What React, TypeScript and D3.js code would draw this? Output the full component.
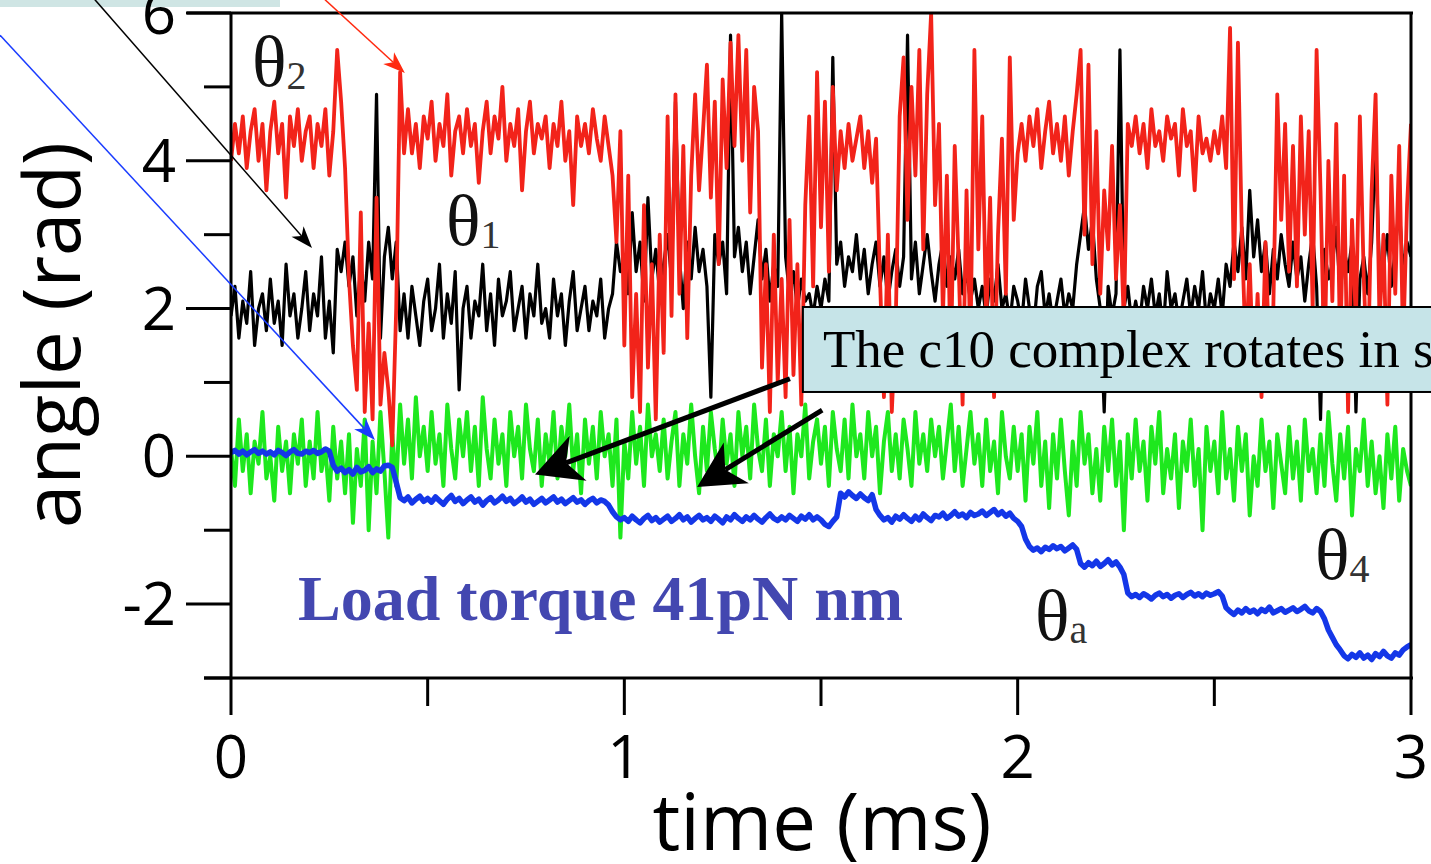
import React from 'react';
import * as d3 from 'd3';

// samples are 0.01 ms apart, starting at t = 0
const timeStep = 0.01;

// theta2 (red)
const theta2 = [
  4.0, 4.5, 4.1, 4.6, 3.9, 4.4, 4.7, 4.0, 4.5, 3.6,
  4.4, 4.8, 4.1, 4.5, 3.5, 4.6, 4.2, 4.7, 4.0, 4.4,
  4.6, 3.9, 4.5, 4.2, 4.7, 3.8, 4.4, 5.5, 4.8, 3.9,
  2.4, 1.5, 0.9, 3.3, 0.6, 1.8, 0.5, 3.5, 0.7, 1.4,
  0.9, 0.15, 2.0, 5.2, 4.1, 4.7, 4.1, 4.5, 3.9, 4.6,
  4.3, 4.8, 4.0, 4.5, 4.2, 4.9, 3.8, 4.4, 4.6, 4.1,
  4.7, 4.2, 4.5, 3.7, 4.4, 4.8, 4.1, 4.6, 4.3, 5.0,
  4.0, 4.5, 4.2, 4.7, 3.6, 4.4, 4.8, 4.1, 4.5, 4.3,
  4.6, 3.9, 4.5, 4.2, 4.8, 4.0, 4.4, 3.4, 4.6, 4.2,
  4.5, 4.1, 4.7, 4.3, 4.0, 4.6, 4.2, 3.8, 2.9, 4.4,
  1.5, 3.8, 0.8, 2.2, 0.6, 3.4, 1.2, 2.6, 0.5, 3.0,
  1.4, 4.6, 1.9, 4.9, 2.2, 4.2, 1.6, 3.8, 4.9, 3.6,
  4.4, 5.3, 3.5, 4.8, 2.6, 5.1, 3.9, 5.6, 4.2, 5.7,
  4.0, 5.5, 3.3, 5.0, 4.4, 1.2, 2.6, 0.6, 3.0, 1.0,
  2.4, 0.8, 3.2, 1.1, 2.6, 0.7, 3.4, 4.6, 2.3, 5.2,
  3.1, 4.8, 2.5, 5.0, 3.6, 4.4, 3.9, 4.5, 4.0, 4.3,
  4.6, 3.9, 4.4, 3.7, 4.3, 2.4, 0.8, 3.0, 0.6, 1.8,
  4.6, 5.4, 3.2, 5.0, 3.8, 5.5, 2.8, 4.9, 6.0, 3.4,
  4.5, 1.9, 3.8, 1.2, 4.2, 2.6, 0.7, 3.6, 1.5, 5.5,
  2.8, 4.6, 1.8, 3.5, 0.8, 3.0, 4.3, 2.2, 5.4, 3.2,
  4.1, 4.5, 4.0, 4.6, 4.2, 4.7, 3.9, 4.4, 4.8, 4.1,
  4.5, 4.0, 4.6, 3.8, 4.4, 4.9, 5.5, 3.0, 5.3, 2.6,
  4.4, 2.2, 3.6, 2.8, 4.2, 2.4, 3.4, 1.8, 4.5, 4.2,
  4.6, 4.1, 4.5, 3.9, 4.7, 4.2, 4.4, 4.0, 4.6, 4.3,
  4.5, 3.8, 4.7, 4.2, 4.4, 3.6, 4.6, 4.1, 4.3, 4.0,
  4.4, 4.1, 4.6, 3.9, 5.8, 2.4, 5.6, 3.0, 1.4, 2.6,
  1.0, 2.2, 0.8, 2.9, 1.3, 2.0, 4.9, 3.2, 4.5, 2.5,
  4.2, 2.3, 4.6, 3.0, 4.4, 2.0, 5.5, 3.6, 1.2, 4.0,
  2.1, 4.5, 1.4, 3.8, 0.6, 3.2, 1.8, 4.6, 2.4, 1.0,
  3.6, 4.9, 1.8, 3.0, 0.7, 3.8, 2.2, 4.2, 1.5, 3.4,
  4.5,
];

// theta1 (black)
const theta1 = [
  1.9, 2.3, 1.6, 2.1, 1.8, 2.5, 1.5, 2.0, 2.2, 1.7,
  2.4, 1.8, 2.1, 1.5, 2.6, 1.9, 2.2, 1.6, 2.0, 2.5,
  1.7, 2.2, 1.9, 2.7, 1.6, 2.1, 1.4, 2.8, 2.5, 2.9,
  2.3, 2.7, 1.9, 2.6, 2.1, 2.9, 2.4, 4.9, 1.6, 2.7,
  3.1, 2.4, 2.9, 1.7, 2.2, 1.6, 2.3, 1.9, 1.5, 2.1,
  2.4, 1.7, 2.0, 2.6, 1.6, 2.2, 1.8, 2.5, 0.9, 2.0,
  2.3, 1.6, 2.1, 1.9, 2.6, 1.7, 2.2, 1.5, 2.4, 1.9,
  2.1, 2.5, 1.7, 2.0, 2.3, 1.6, 2.2, 1.9, 2.6, 1.8,
  2.0, 1.6, 2.4, 1.9, 2.2, 1.5, 2.1, 2.5, 1.7, 2.0,
  2.3, 1.7, 2.1, 1.9, 2.4, 1.6, 2.0, 2.2, 2.9, 2.5,
  2.7, 2.2, 3.3, 2.5, 2.9, 2.1, 3.5, 2.4, 2.8, 2.2,
  2.6, 3.0, 2.4, 4.8, 2.7, 2.0, 2.9, 2.4, 3.1, 2.5,
  2.8, 2.3, 0.8, 3.0, 2.6, 2.9, 2.2, 5.7, 2.7, 3.1,
  2.5, 2.9, 2.2, 2.7, 3.2, 2.4, 2.8, 2.1, 2.6, 2.3,
  6.0, 2.7, 2.2, 2.5, 2.0, 2.4, 2.1, 2.2, 1.9, 2.3,
  2.0, 2.4, 2.1, 5.4, 2.6, 2.9, 2.3, 2.7, 2.5, 3.0,
  2.4, 2.8, 2.2, 2.6, 2.9, 2.3, 2.7, 2.1, 2.5, 2.8,
  2.3, 2.7, 5.7, 2.4, 2.9, 2.2, 2.6, 3.0, 2.5, 2.1,
  2.6, 2.9, 2.3, 2.7, 2.4, 2.8, 2.2, 2.5, 2.1, 2.4,
  2.0, 2.3, 1.9, 2.4, 2.1, 2.6, 2.0, 2.2, 1.8, 2.3,
  2.1, 1.8, 2.4, 2.0, 1.7, 2.3, 2.5, 1.9, 2.2, 1.8,
  2.1, 2.4, 1.9, 2.2, 2.0, 2.6, 3.0, 3.4, 2.8, 3.2,
  2.4, 2.0, 0.6, 2.3, 1.9, 2.2, 5.5, 2.0, 2.3, 1.8,
  2.1, 1.8, 2.3, 2.0, 2.4, 1.9, 2.2, 1.7, 2.5, 2.0,
  2.2, 1.8, 2.1, 2.4, 1.9, 2.3, 2.0, 2.5, 1.8, 2.2,
  2.0, 2.4, 1.9, 2.6, 2.3, 2.9, 2.5, 3.1, 2.4, 3.6,
  2.7, 3.2, 2.5, 2.9, 2.2, 2.8, 2.4, 3.0, 2.6, 2.3,
  2.9, 2.4, 2.7, 2.1, 2.6, 3.0, 2.3, 0.5, 2.8, 2.4,
  2.6, 3.1, 2.2, 2.8, 2.5, 2.9, 0.6, 2.4, 2.7, 2.2,
  2.9, 4.2, 2.5, 2.6, 3.0, 2.3, 2.8, 3.4, 2.5, 2.9,
  2.7,
];

// theta4 (green)
const theta4 = [
  0.1, -0.4, 0.5, -0.2, 0.3, -0.5, 0.2, -0.1, 0.6, -0.3,
  0.0, -0.6, 0.4, -0.2, 0.2, -0.5, 0.3, -0.1, 0.5, -0.4,
  0.2, -0.3, 0.6, -0.2, 0.1, -0.6, 0.4, -0.3, 0.2, -0.5,
  0.3, -0.9, 0.1, -0.4, 0.5, -1.0, 0.2, -0.5, 0.6, -0.2,
  -1.1, 0.3, -0.4, 0.7, -0.1, 0.5, -0.3, 0.8, 0.0, 0.4,
  -0.2, 0.6, -0.1, 0.3, -0.4, 0.7, 0.1, -0.3, 0.5, 0.0,
  0.6, -0.2, 0.4, -0.4, 0.8, 0.1, -0.3, 0.5, -0.1, 0.3,
  -0.4, 0.6, 0.0, 0.4, -0.3, 0.7, 0.1, -0.2, 0.5, -0.4,
  0.3, -0.1, 0.6, -0.3, 0.4, 0.0, 0.7, -0.2, 0.3, -0.5,
  0.5, -0.1, 0.4, -0.3, 0.6, 0.0, 0.3, -0.4, 0.5, -1.1,
  0.2, -0.3, 0.6, -0.1, 0.4, -0.4, 0.7, 0.0, 0.3, -0.2,
  0.5, -0.3, 0.2, 0.6, -0.4, 0.3, -0.1, 0.7, 0.0, -0.5,
  0.4, -0.2, 0.6, 0.1, -0.3, 0.5, -0.1, 0.3, -0.4, 0.6,
  0.0, 0.4, -0.3, 0.7, 0.1, -0.2, 0.5, -0.4, 0.3, 0.0,
  0.6, -0.2, 0.4, -0.5, 0.3, 0.0, 0.7, -0.3, 0.2, 0.5,
  -0.1, 0.4, -0.4, 0.6, 0.1, -0.2, 0.5, -0.3, 0.7, 0.0,
  0.3, -0.3, 0.6, 0.0, 0.4, -0.5, 0.2, 0.6, -0.2, 0.3,
  -0.3, 0.5, 0.1, -0.4, 0.6, -0.1, 0.3, -0.2, 0.5, 0.0,
  0.4, -0.3, 0.2, 0.7, -0.2, 0.4, -0.4, 0.1, 0.6, -0.1,
  0.3, -0.4, 0.5, -0.2, 0.2, -0.5, 0.6, 0.0, -0.3, 0.4,
  -0.2, 0.3, -0.6, 0.4, -0.1, 0.6, -0.4, 0.2, -0.7, 0.3,
  -0.3, 0.5, -0.2, -0.8, 0.2, -0.4, 0.6, -0.1, 0.3, -0.5,
  0.1, -0.6, 0.4, -0.2, 0.5, -0.4, 0.2, -1.0, 0.3, -0.3,
  0.5, -0.2, 0.2, -0.6, 0.4, -0.1, 0.6, -0.5, 0.1, -0.3,
  0.3, -0.7, 0.2, -0.2, 0.5, -0.4, 0.1, -1.0, 0.4, -0.2,
  0.2, -0.5, 0.6, -0.3, 0.1, -0.6, 0.4, -0.2, 0.3, -0.8,
  0.0, -0.4, 0.5, -0.2, 0.2, -0.7, 0.3, -0.1, -0.5, 0.4,
  -0.3, 0.2, -0.6, 0.5, -0.2, 0.1, -0.5, 0.3, -0.4, 0.6,
  -0.1, -0.6, 0.3, -0.3, 0.4, -0.8, 0.1, -0.2, 0.5, -0.4,
  0.2, -0.5, 0.0, -0.7, 0.3, -0.3, 0.4, -0.6, 0.1, -0.2,
  -0.4,
];

// theta_a (blue), stepping rotor angle
const thetaA = [
  0.05, 0.08, 0.03, 0.07, 0.02, 0.06, 0.09, 0.04, 0.07, 0.03,
  0.06, 0.02, 0.08, 0.05, 0.01, 0.06, 0.09, 0.04, 0.03, 0.07,
  0.05, 0.08, 0.04, 0.06, 0.10, 0.07, -0.12, -0.20, -0.16, -0.22,
  -0.18, -0.24, -0.15, -0.21, -0.19, -0.14, -0.22, -0.17, -0.20, -0.13,
  -0.12, -0.15, -0.35, -0.56, -0.60, -0.55, -0.63, -0.58, -0.54, -0.61,
  -0.57, -0.62, -0.55, -0.60, -0.65, -0.58, -0.53, -0.61, -0.57, -0.64,
  -0.59, -0.55, -0.62, -0.58, -0.66, -0.60, -0.56, -0.63, -0.59, -0.54,
  -0.61, -0.57, -0.64, -0.60, -0.55, -0.62, -0.58, -0.65, -0.61, -0.57,
  -0.63, -0.59, -0.55, -0.62, -0.58, -0.64, -0.60, -0.56, -0.62, -0.59,
  -0.65, -0.60, -0.57, -0.63, -0.59, -0.61, -0.66, -0.75, -0.82, -0.86,
  -0.83, -0.88, -0.81, -0.86, -0.90, -0.84, -0.80, -0.87, -0.83, -0.89,
  -0.85, -0.81, -0.88, -0.84, -0.79, -0.86, -0.82, -0.89, -0.84, -0.80,
  -0.86, -0.83, -0.88, -0.81, -0.85, -0.90, -0.82, -0.86, -0.79, -0.84,
  -0.88, -0.82, -0.86, -0.80, -0.85, -0.89, -0.83, -0.78, -0.84, -0.87,
  -0.82, -0.86, -0.80, -0.84, -0.88, -0.81, -0.85, -0.79, -0.86, -0.82,
  -0.86, -0.92, -0.95, -0.88, -0.82, -0.50, -0.55, -0.48, -0.53, -0.57,
  -0.51, -0.56, -0.60, -0.52, -0.72, -0.80, -0.86, -0.83, -0.89, -0.81,
  -0.85, -0.79, -0.84, -0.88, -0.81, -0.86, -0.78, -0.83, -0.87, -0.80,
  -0.82, -0.77, -0.84, -0.80, -0.75, -0.81, -0.78, -0.83, -0.76, -0.80,
  -0.78, -0.74, -0.80, -0.76, -0.72, -0.79, -0.75, -0.81, -0.77, -0.84,
  -0.88, -0.95, -1.12, -1.22, -1.27, -1.24, -1.29, -1.23, -1.26, -1.21,
  -1.25, -1.22, -1.28, -1.24, -1.20, -1.26, -1.45, -1.50, -1.44, -1.48,
  -1.42, -1.49, -1.45, -1.40, -1.47, -1.43, -1.50, -1.60, -1.85, -1.90,
  -1.87, -1.91, -1.86, -1.89, -1.93, -1.88, -1.85, -1.90, -1.87, -1.92,
  -1.88, -1.86, -1.91, -1.87, -1.84, -1.89, -1.86, -1.90, -1.85, -1.88,
  -1.86, -1.83, -1.89, -2.05, -2.10, -2.14, -2.08, -2.12, -2.06, -2.11,
  -2.08, -2.13, -2.07, -2.10, -2.04, -2.12, -2.09, -2.06, -2.11, -2.08,
  -2.05, -2.10, -2.07, -2.03, -2.09, -2.12, -2.06, -2.10, -2.20, -2.35,
  -2.45, -2.55, -2.62, -2.70, -2.74, -2.68, -2.72, -2.66, -2.73, -2.69,
  -2.75, -2.67, -2.71, -2.64, -2.70, -2.73, -2.66, -2.69, -2.62, -2.58,
  -2.55,
];

const xTicks = [0, 0.5, 1, 1.5, 2, 2.5, 3];
const xLabels = ['0', '1', '2', '3'];
const yTicks = [-3, -2, -1, 0, 1, 2, 3, 4, 5, 6];
const yLabels = ['-2', '0', '2', '4', '6'];

const W = 1431;
const H = 864;

const x = d3.scaleLinear().domain([0, 3]).range([231, 1411]);
const y = d3.scaleLinear().domain([-3, 6]).range([678, 13]);

const line = d3
  .line<number>()
  .x((d, i) => x(i * timeStep))
  .y(d => y(d));

const sans = "'Open Sans', 'DejaVu Sans', sans-serif";
const serif = "'Liberation Serif', 'Times New Roman', serif";

// arrow from (x1,y1) to tip (x2,y2) in data units
function Arrow({ x1, y1, x2, y2, color, width, head, half }) {
  const ax = x(x1), ay = y(y1), bx = x(x2), by = y(y2);
  const len = Math.hypot(ax - bx, ay - by);
  const ux = (ax - bx) / len, uy = (ay - by) / len;
  const px = -uy, py = ux;
  const backX = bx + ux * head, backY = by + uy * head;
  const notchX = bx + ux * head * 0.72, notchY = by + uy * head * 0.72;
  const pts = [
    [bx, by],
    [backX + px * half, backY + py * half],
    [notchX, notchY],
    [backX - px * half, backY - py * half],
  ];
  return (
    <g>
      <line x1={ax} y1={ay} x2={notchX} y2={notchY} stroke={color} strokeWidth={width} />
      <polygon points={pts.map(p => p.join(',')).join(' ')} fill={color} />
    </g>
  );
}

function Theta({ px, py, sub }) {
  return (
    <text x={px} y={py} fontFamily={serif} fontSize={72} fill="#111">
      θ
      <tspan fontSize={40} dy={3} fill="#333">{sub}</tspan>
    </text>
  );
}

export default function App() {
  const [x0, x1] = x.range();
  const [yb, yt] = y.range();
  return (
    <svg width={W} height={H} style={{ position: 'absolute', left: 0, top: 0, background: '#fff' }}>
      <defs>
        <clipPath id="plot">
          <rect x={x0} y={yt} width={x1 - x0} height={yb - yt} />
        </clipPath>
      </defs>

      {/* cropped strip left over at the top edge */}
      <rect x={0} y={0} width={280} height={7} fill="#cfe5e4" />

      <g clipPath="url(#plot)" fill="none" strokeLinejoin="round">
        <path d={line(theta4)} stroke="#1ee81e" strokeWidth={4} />
        <path d={line(theta1)} stroke="#000" strokeWidth={3.2} />
        <path d={line(theta2)} stroke="#f2231a" strokeWidth={3.8} />
        <path d={line(thetaA)} stroke="#1437e8" strokeWidth={5.5} />
      </g>

      {/* frame */}
      <g stroke="#000" strokeWidth={3} fill="none">
        <line x1={x0} y1={yt} x2={x0} y2={yb} />
        <line x1={x0 - 44} y1={yt} x2={x1 + 2} y2={yt} />
        <line x1={x1} y1={yt} x2={x1} y2={yb} />
        <line x1={x0 - 27} y1={yb} x2={x1 + 2} y2={yb} />
      </g>

      {/* y ticks */}
      {yTicks.map(t => (
        <line
          key={'y' + t}
          x1={x0}
          x2={x0 - (t % 2 === 0 ? 45 : 27)}
          y1={y(t)}
          y2={y(t)}
          stroke="#000"
          strokeWidth={3}
        />
      ))}
      {yLabels.map(l => (
        <text key={'yl' + l} x={176} y={y(+l) + 21} textAnchor="end" fontFamily={sans} fontSize={60}>
          {l}
        </text>
      ))}

      {/* x ticks */}
      {xTicks.map(t => (
        <line
          key={'x' + t}
          x1={x(t)}
          x2={x(t)}
          y1={yb}
          y2={yb + (Number.isInteger(t) ? 37 : 28)}
          stroke="#000"
          strokeWidth={3}
        />
      ))}
      {xLabels.map(l => (
        <text key={'xl' + l} x={x(+l)} y={778} textAnchor="middle" fontFamily={sans} fontSize={60}>
          {l}
        </text>
      ))}

      <text x={822} y={850} textAnchor="middle" fontFamily={sans} fontSize={78}>
        time (ms)
      </text>
      <text transform="translate(80,335) rotate(-90)" textAnchor="middle" fontFamily={sans} fontSize={78}>
        angle (rad)
      </text>

      <Theta px={252} py={86} sub="2" />
      <Theta px={446} py={245} sub="1" />
      <Theta px={1315} py={579} sub="4" />
      <Theta px={1035} py={640} sub="a" />

      <text x={298} y={620} fontFamily={serif} fontWeight="bold" fontSize={64} fill="#4347b0">
        Load torque 41pN nm
      </text>

      {/* callout */}
      <rect x={x(1.454)} y={y(2.021)} width={700} height={y(0.871) - y(2.021)} fill="#c6e4e8" stroke="#000" strokeWidth={2} />
      <text x={x(1.454) + 20} y={367} fontFamily={serif} fontSize={53}>
        The c10 complex rotates in steps
      </text>

      <Arrow x1={1.421} y1={1.05} x2={0.773} y2={-0.246} color="#000" width={5} head={46} half={24} />
      <Arrow x1={1.503} y1={0.627} x2={1.185} y2={-0.415} color="#000" width={5} head={46} half={24} />

      <Arrow x1={-0.346} y1={6.18} x2={0.206} y2={2.82} color="#000" width={1.5} head={22} half={8} />
      <Arrow x1={-0.587} y1={5.7} x2={0.366} y2={0.221} color="#1a3cff" width={1.5} head={22} half={8} />
      <Arrow x1={0.239} y1={6.18} x2={0.442} y2={5.188} color="#ff2a10" width={1.5} head={22} half={8} />
    </svg>
  );
}
